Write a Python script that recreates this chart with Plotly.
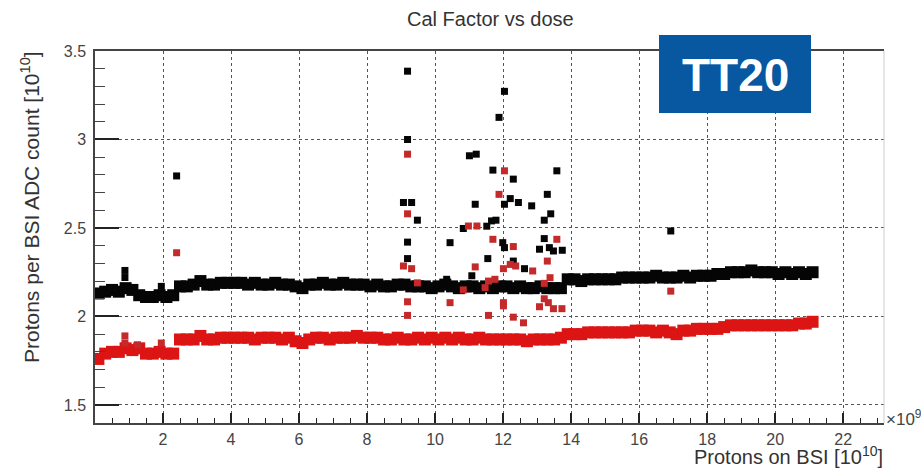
import plotly.graph_objects as go

# ---- data ----
dose = [0.1, 0.3, 0.5, 0.7, 0.9, 1.1, 1.3, 1.5, 1.7, 1.9,
        2.1, 2.3, 2.5, 2.7, 2.9, 3.1, 3.3, 3.5, 3.7, 3.9,
        4.1, 4.3, 4.5, 4.7, 4.9, 5.1, 5.3, 5.5, 5.7, 5.9,
        6.1, 6.3, 6.5, 6.7, 6.9, 7.1, 7.3, 7.5, 7.7, 7.9,
        8.1, 8.3, 8.5, 8.7, 8.9, 9.1, 9.3, 9.5, 9.7, 9.9,
        10.1, 10.3, 10.5, 10.7, 10.9, 11.1, 11.3, 11.5, 11.7, 11.9,
        12.1, 12.3, 12.5, 12.7, 12.9, 13.1, 13.3, 13.5, 13.7, 13.9,
        14.1, 14.3, 14.5, 14.7, 14.9, 15.1, 15.3, 15.5, 15.7, 15.9,
        16.1, 16.3, 16.5, 16.7, 16.9, 17.1, 17.3, 17.5, 17.7, 17.9,
        18.1, 18.3, 18.5, 18.7, 18.9, 19.1, 19.3, 19.5, 19.7, 19.9,
        20.1, 20.3, 20.5, 20.7, 20.9, 21.1]

cal_black = [2.13, 2.14, 2.15, 2.14, 2.16, 2.15, 2.12, 2.11, 2.11, 2.12,
             2.11, 2.12, 2.17, 2.17, 2.18, 2.20, 2.18, 2.18, 2.19, 2.19,
             2.19, 2.19, 2.18, 2.19, 2.18, 2.18, 2.19, 2.18, 2.18, 2.17,
             2.16, 2.18, 2.18, 2.19, 2.18, 2.18, 2.19, 2.18, 2.18, 2.18,
             2.17, 2.18, 2.17, 2.17, 2.18, 2.18, 2.17, 2.17, 2.17, 2.16,
             2.17, 2.18, 2.17, 2.16, 2.17, 2.17, 2.16, 2.17, 2.16, 2.17,
             2.17, 2.16, 2.17, 2.16, 2.16, 2.17, 2.16, 2.16, 2.16, 2.21,
             2.21, 2.20, 2.21, 2.21, 2.21, 2.21, 2.21, 2.22, 2.22, 2.22,
             2.22, 2.22, 2.23, 2.22, 2.22, 2.22, 2.23, 2.22, 2.23, 2.23,
             2.23, 2.24, 2.24, 2.25, 2.25, 2.25, 2.26, 2.25, 2.25, 2.25,
             2.24, 2.25, 2.24, 2.25, 2.24, 2.25]

cal_red = [1.76, 1.79, 1.80, 1.80, 1.82, 1.81, 1.82, 1.79, 1.79, 1.80,
           1.79, 1.79, 1.87, 1.87, 1.87, 1.89, 1.87, 1.87, 1.88, 1.88,
           1.88, 1.88, 1.88, 1.87, 1.88, 1.88, 1.88, 1.87, 1.88, 1.86,
           1.85, 1.87, 1.88, 1.88, 1.87, 1.88, 1.88, 1.88, 1.89, 1.88,
           1.88, 1.88, 1.87, 1.87, 1.88, 1.87, 1.87, 1.88, 1.87, 1.88,
           1.87, 1.88, 1.87, 1.88, 1.87, 1.87, 1.88, 1.87, 1.87, 1.87,
           1.87, 1.87, 1.87, 1.86, 1.87, 1.87, 1.87, 1.87, 1.88, 1.90,
           1.90, 1.90, 1.91, 1.91, 1.91, 1.91, 1.91, 1.91, 1.91, 1.92,
           1.92, 1.92, 1.91, 1.92, 1.91, 1.90, 1.92, 1.92, 1.93, 1.93,
           1.93, 1.93, 1.94, 1.95, 1.95, 1.95, 1.95, 1.95, 1.95, 1.95,
           1.95, 1.95, 1.95, 1.96, 1.96, 1.97]

out_black_x = [0.88, 0.88, 1.95, 2.40,
               9.19, 9.19, 9.07, 9.31, 9.48, 9.19, 9.19,
               10.44, 10.34, 11.01, 11.21, 11.18, 10.83, 11.52, 11.66, 11.79,
               11.08, 11.55, 11.70, 11.88, 12.04, 12.04, 12.21, 12.45, 12.30,
               12.84, 11.99, 12.04, 12.30, 12.63, 13.58, 13.30, 13.40, 13.21,
               13.21, 13.07, 13.36, 13.48, 13.74, 16.93]
out_black_y = [2.26, 2.22, 2.17, 2.794,
               3.386, 3.00, 2.644, 2.644, 2.544, 2.42, 2.327,
               2.417, 2.21, 2.908, 2.917, 2.634, 2.497, 2.51, 2.54, 2.544,
               2.23, 2.327, 2.827, 3.125, 3.272, 2.634, 2.666, 2.644, 2.776,
               2.625, 2.417, 2.389, 2.313, 2.27, 2.823, 2.69, 2.58, 2.544,
               2.44, 2.38, 2.389, 2.37, 2.374, 2.483]

out_red_x = [0.88, 0.88, 1.25, 1.95, 2.40,
             9.19, 9.19, 9.07, 9.31, 9.48, 9.19, 9.19,
             10.44, 10.98, 11.23, 11.18, 10.83, 11.70, 12.04, 11.88, 12.30,
             12.21, 12.37, 12.87, 12.01, 11.57, 11.76, 11.47, 12.01, 12.01,
             12.30, 12.60, 11.57, 13.58, 13.30, 13.38, 13.21, 13.21, 13.33,
             13.07, 13.48, 13.73, 16.93]
out_red_y = [1.89, 1.85, 1.84, 1.85, 2.36,
             2.917, 2.58, 2.285, 2.27, 2.19, 2.083, 2.006,
             2.078, 2.511, 2.511, 2.28, 2.15, 2.436, 2.823, 2.69, 2.395,
             2.294, 2.285, 2.257, 2.27, 2.20, 2.21, 2.163, 2.078, 2.06,
             1.996, 1.964, 2.006, 2.436, 2.313, 2.219, 2.187, 2.10, 2.078,
             2.055, 2.044, 2.044, 2.143]

x_ticks = [2, 4, 6, 8, 10, 12, 14, 16, 18, 20, 22]

# ---- layout geometry ----
W, H = 921, 469
L, R, T, B = 95, 37, 51, 46
pw, ph = W - L - R, H - T - B

def px(x):
    return (x - L) / pw

def py(y):
    return (H - B - y) / ph

BLACK = "#050505"
RED_BAND = "#dc1414"
RED_OUT = "#c42a2a"
FONT = "Liberation Sans, Arial, sans-serif"

fig = go.Figure()
fig.add_trace(go.Scatter(x=dose, y=cal_black, mode="markers",
                         marker=dict(symbol="square", size=12, color=BLACK, line=dict(width=0)),
                         showlegend=False, hoverinfo="skip"))
fig.add_trace(go.Scatter(x=out_black_x, y=out_black_y, mode="markers",
                         marker=dict(symbol="square", size=7, color=BLACK, line=dict(width=0)),
                         showlegend=False, hoverinfo="skip"))
fig.add_trace(go.Scatter(x=dose, y=cal_red, mode="markers",
                         marker=dict(symbol="square", size=12, color=RED_BAND, line=dict(width=0)),
                         showlegend=False, hoverinfo="skip"))
fig.add_trace(go.Scatter(x=out_red_x, y=out_red_y, mode="markers",
                         marker=dict(symbol="square", size=7, color=RED_OUT, line=dict(width=0)),
                         showlegend=False, hoverinfo="skip"))

tickfont = dict(family=FONT, size=16, color="#444444")

fig.update_layout(
    width=W, height=H,
    margin=dict(l=L, r=R, t=T, b=B),
    paper_bgcolor="white", plot_bgcolor="white",
    font=dict(family=FONT, color="#333333"),
    xaxis=dict(range=[0, 23.2], tickvals=x_ticks, ticks="inside", ticklen=10,
               tickcolor="#222222", tickwidth=1.5,
               showgrid=True, gridcolor="#555555", griddash="dot", gridwidth=1,
               showline=True, linecolor="#444444", linewidth=1.8, mirror=True,
               zeroline=False, tickfont=tickfont, ticklabelstandoff=1,
               minor=dict(dtick=0.5, tick0=0, ticks="inside", ticklen=5,
                          tickcolor="#222222", tickwidth=1.2, showgrid=False)),
    yaxis=dict(range=[1.398, 3.5], dtick=0.5, tick0=1.5, ticks="inside", ticklen=24,
               tickcolor="#222222", tickwidth=1.5,
               showgrid=True, gridcolor="#555555", griddash="dot", gridwidth=1,
               showline=True, linecolor="#444444", linewidth=1.5,
               zeroline=False, tickfont=tickfont, ticklabelstandoff=4,
               minor=dict(dtick=0.1, tick0=1.5, ticks="inside", ticklen=10,
                          tickcolor="#444444", tickwidth=1.2, showgrid=False)),
)

# faint right frame
fig.add_shape(type="line", xref="paper", yref="paper", x0=1, x1=1, y0=0, y1=1,
              line=dict(color="#cccccc", width=1))

# TT20 badge
fig.add_shape(type="rect", xref="paper", yref="paper",
              x0=px(659), x1=px(811), y0=py(113), y1=py(35),
              fillcolor="#0757a1", line=dict(width=0), layer="above")
fig.add_annotation(xref="paper", yref="paper", x=px(735), y=py(75),
                   text="<b>TT20</b>", showarrow=False,
                   font=dict(family=FONT, size=46, color="white"),
                   xanchor="center", yanchor="middle")

# title
fig.add_annotation(xref="paper", yref="paper", x=px(490), y=py(19),
                   text="Cal Factor vs dose", showarrow=False,
                   font=dict(family=FONT, size=20, color="#333333"),
                   xanchor="center", yanchor="middle")

# axis titles
fig.add_annotation(xref="paper", yref="paper", x=px(30), y=py(207),
                   text="Protons per BSI ADC count [10<sup>10</sup>]", showarrow=False,
                   textangle=-90, font=dict(family=FONT, size=21, color="#333333"),
                   xanchor="center", yanchor="middle")
fig.add_annotation(xref="paper", yref="paper", x=px(884), y=py(469),
                   text="Protons on BSI [10<sup>10</sup>]", showarrow=False,
                   font=dict(family=FONT, size=20, color="#333333"),
                   xanchor="right", yanchor="bottom", borderpad=0)
fig.add_annotation(xref="paper", yref="paper", x=px(884), y=py(418),
                   text="×10<sup>9</sup>", showarrow=False,
                   font=dict(family=FONT, size=17, color="#444444"),
                   xanchor="left", yanchor="middle")

fig.write_html("out.html")
